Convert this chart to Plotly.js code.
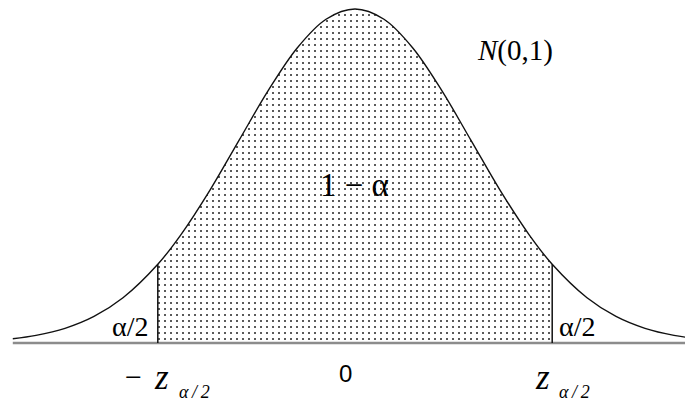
<!DOCTYPE html>
<html>
<head>
<meta charset="utf-8">
<script src="https://cdn.plot.ly/plotly-3.0.1.min.js"></script>
<style>html,body{margin:0;padding:0;background:#fff;}#chart{width:685px;height:403px;}</style>
</head>
<body>
<div id="chart"></div>
<script>
// Standard normal curve (z in sigma units, density values)
var zValues = [-2.95, -2.75, -2.5, -2.25, -2.0, -1.7, -1.5, -1.25, -1.0, -0.75, -0.5, -0.25, 0,
               0.25, 0.5, 0.75, 1.0, 1.25, 1.5, 1.7, 2.0, 2.25, 2.5, 2.75, 3.0];
var densityValues = [0.0051, 0.0091, 0.0175, 0.0317, 0.0540, 0.0940, 0.1295, 0.1826, 0.2420, 0.3011, 0.3521, 0.3867, 0.3989,
                     0.3867, 0.3521, 0.3011, 0.2420, 0.1826, 0.1295, 0.0940, 0.0540, 0.0317, 0.0175, 0.0091, 0.0044];
var zCrit = 1.7;          // critical value z_{α/2}
var critDensity = 0.0940; // curve height at ±z_{α/2}
var tickLabels = ["\u2212", "0", "z"];

// shaded central region
var shadeX = [], shadeY = [];
for (var i = 0; i < zValues.length; i++) {
  if (Math.abs(zValues[i]) <= zCrit + 1e-9) { shadeX.push(zValues[i]); shadeY.push(densityValues[i]); }
}

// pixel helpers for annotation placement (layout only)
var X0 = 355, SIG = 116, BASE = 343, PPU = 334 / 0.3989;
function px(x) { return (x - X0) / SIG; }
function py(y) { return (BASE - y) / PPU; }

var serif = "'Liberation Serif', 'Times New Roman', serif";
var sans = "'Liberation Sans', Arial, sans-serif";

var traces = [
  { x: shadeX, y: shadeY, type: 'scatter', mode: 'lines', line: {width: 0, shape: 'spline'},
    fill: 'tozeroy', fillcolor: 'rgba(255,255,255,0)',
    fillpattern: {shape: '.', size: 6, solidity: 0.09, fgcolor: '#222222', bgcolor: '#ffffff'},
    hoverinfo: 'skip' },
  { x: [zValues[0], zValues[zValues.length - 1]], y: [0, 0], type: 'scatter', mode: 'lines',
    line: {color: '#8c8c8c', width: 2.5}, hoverinfo: 'skip' },
  { x: zValues, y: densityValues, type: 'scatter', mode: 'lines',
    line: {color: '#111111', width: 1.4, shape: 'spline'}, hoverinfo: 'skip' },
  { x: [-zCrit, -zCrit, null, zCrit, zCrit], y: [0, critDensity, null, 0, critDensity], type: 'scatter', mode: 'lines',
    line: {color: '#111111', width: 1.5}, hoverinfo: 'skip' }
];

function ann(x, y, text, size, family) {
  return { x: px(x), y: py(y), xref: 'x', yref: 'y', text: text, showarrow: false,
           xanchor: 'center', yanchor: 'middle', font: {family: family || serif, size: size, color: '#000'} };
}

var sub = "<i>\u03b1\u2009/\u20092</i>";

var layout = {
  width: 685, height: 403,
  margin: {l: 0, r: 0, t: 0, b: 0},
  paper_bgcolor: '#ffffff', plot_bgcolor: '#ffffff',
  showlegend: false,
  xaxis: {range: [px(0), px(685)], visible: false, fixedrange: true},
  yaxis: {range: [py(403), py(0)], visible: false, fixedrange: true},
  annotations: [
    ann(515, 50, "<i>N</i>(0,1)", 29),
    ann(354, 185, "1 \u2212 \u03b1", 33),
    ann(130, 326, "\u03b1/2", 28),
    ann(577, 326, "\u03b1/2", 28),
    ann(345, 373, tickLabels[1], 24, sans),
    ann(133, 376, tickLabels[0], 30),
    ann(161, 377, "<i>" + tickLabels[2] + "</i>", 35),
    ann(194, 392, sub, 18),
    ann(542, 377, "<i>" + tickLabels[2] + "</i>", 35),
    ann(574, 392, sub, 18)
  ]
};

Plotly.newPlot('chart', traces, layout, {staticPlot: true, displayModeBar: false});
</script>
</body>
</html>
